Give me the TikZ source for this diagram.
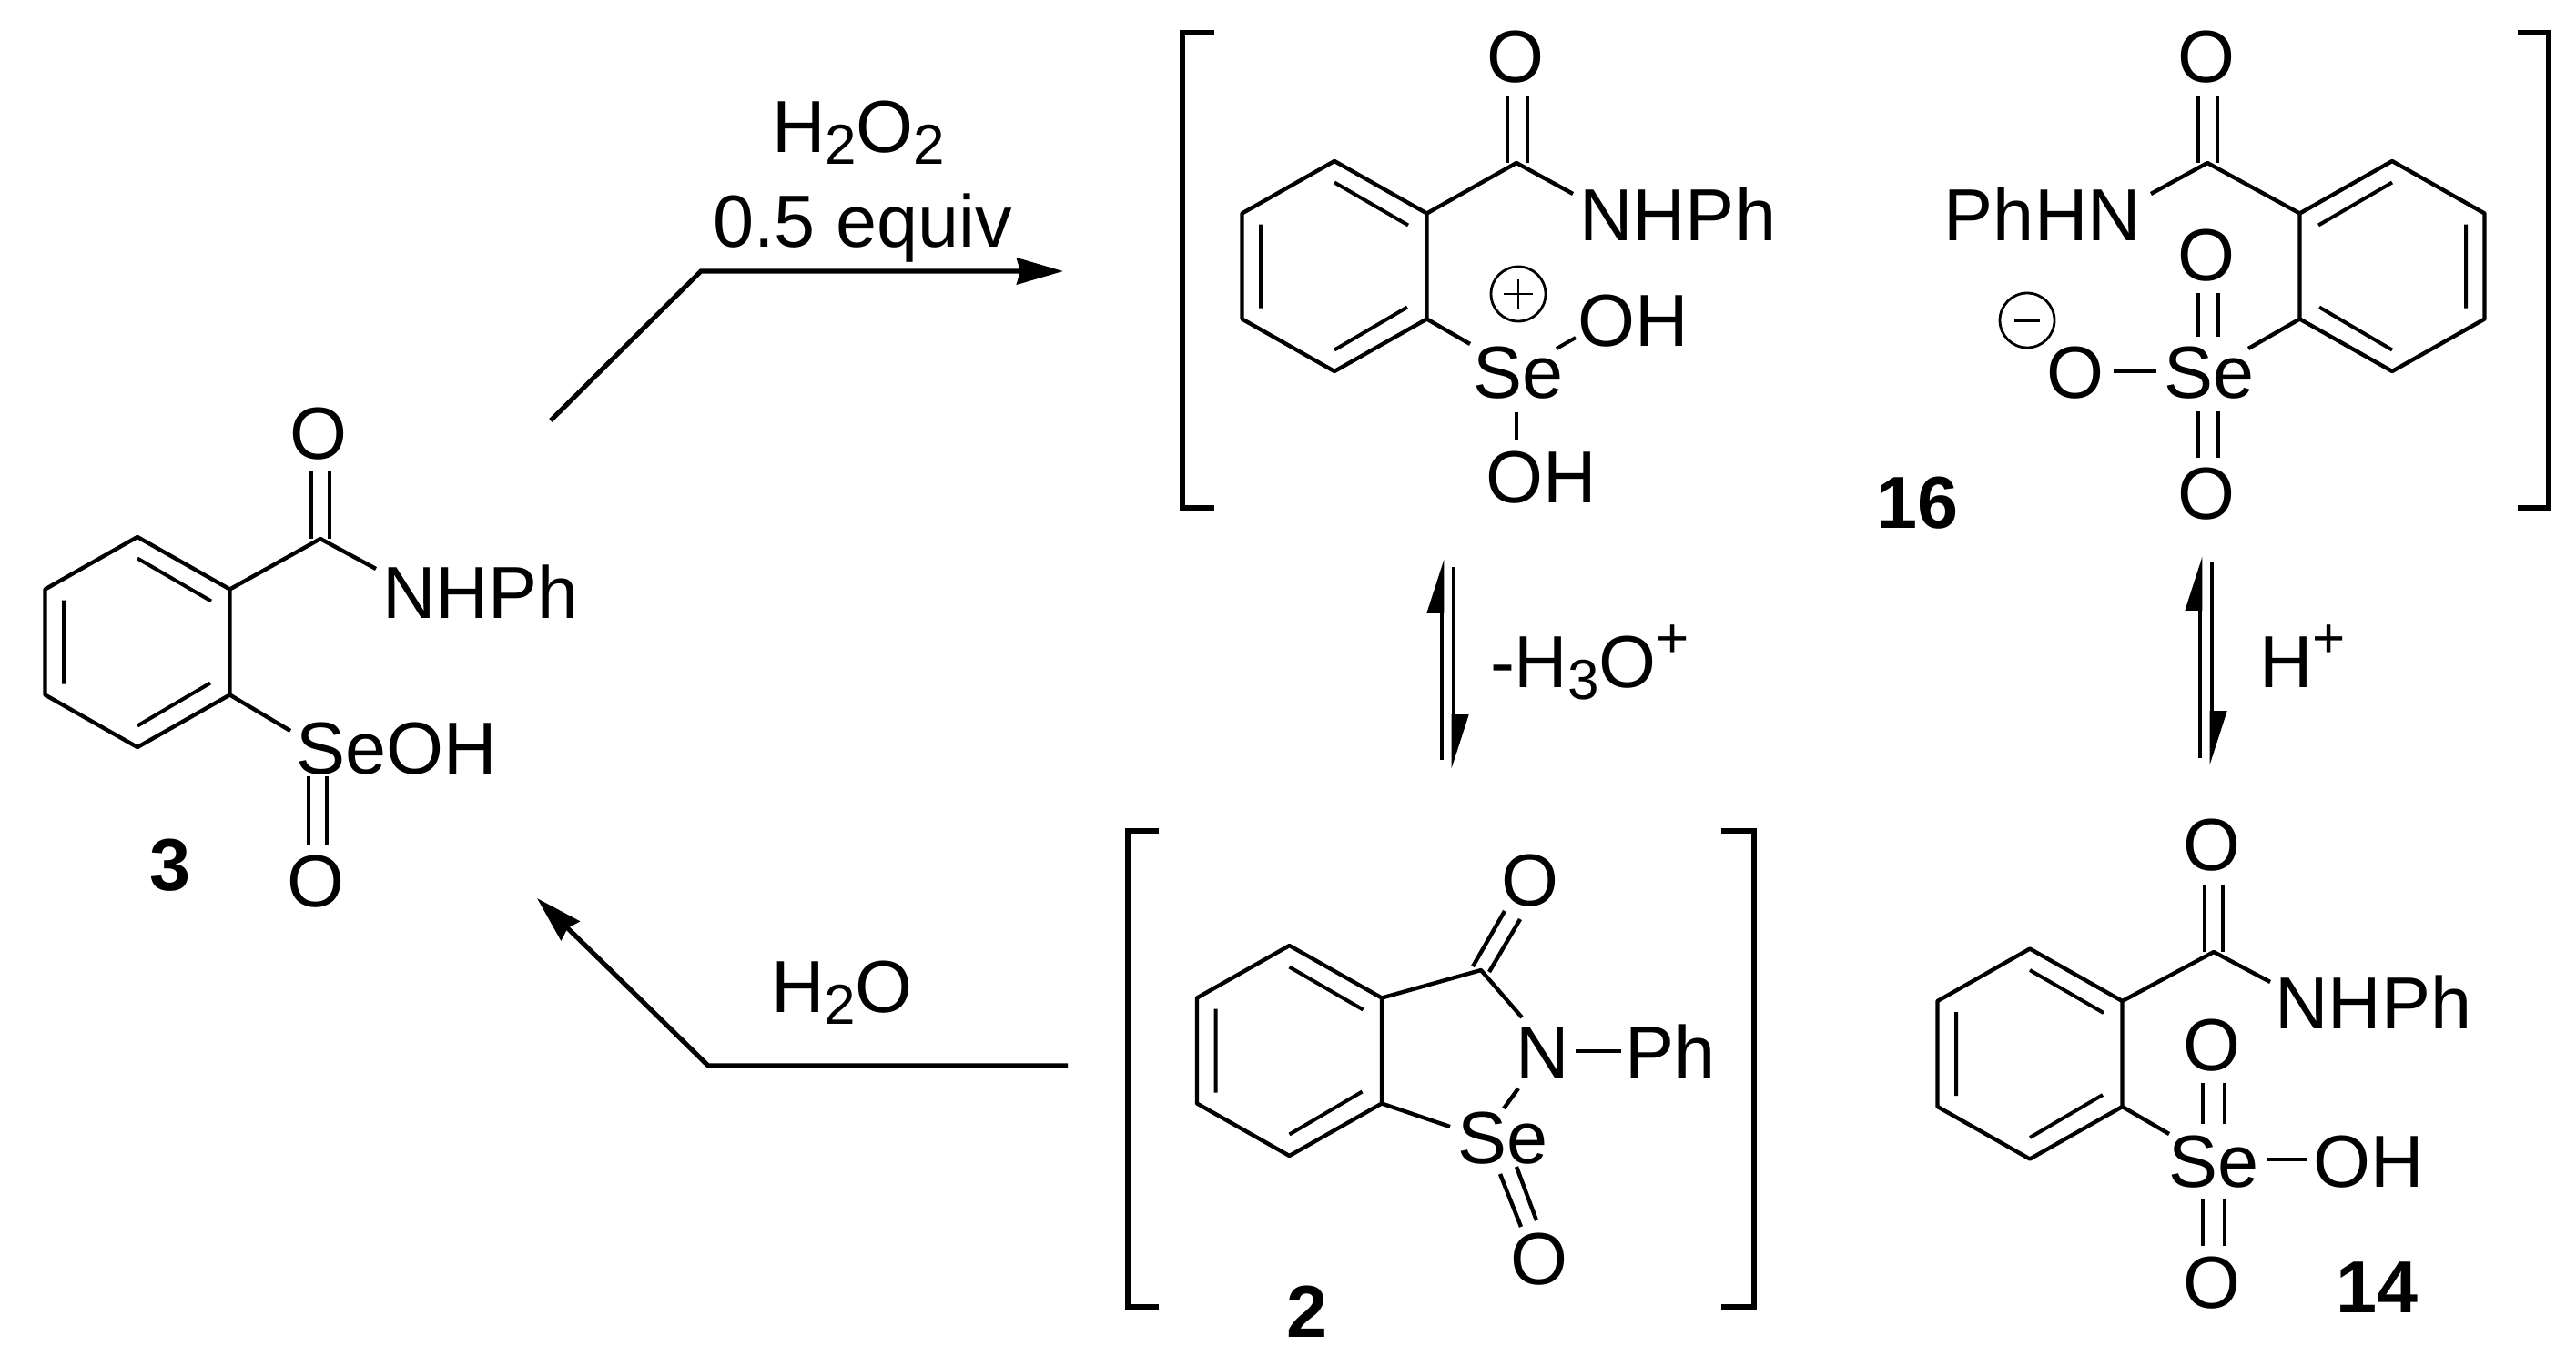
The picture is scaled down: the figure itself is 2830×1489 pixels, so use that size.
\documentclass[tikz,border=0pt]{standalone}
\usepackage{fontspec}
\setmainfont{Liberation Sans}
\usetikzlibrary{arrows.meta}
\newcommand{\sbs}[1]{\raisebox{-6.5pt}{\fontsize{31pt}{31pt}\selectfont #1}}
\newcommand{\sps}[1]{\raisebox{16.5pt}{\fontsize{31pt}{31pt}\selectfont #1}}
\tikzset{
  bond/.style={line width=2.2pt,line cap=butt,line join=round,black},
  brack/.style={line width=2.8pt,line join=miter,black},
  thinl/.style={line width=1.4pt,black},
  lab/.style={anchor=base,inner sep=0pt,outer sep=0pt,font=\fontsize{40.5pt}{40.5pt}\selectfont},
  labw/.style={lab,anchor=base west},
  labe/.style={lab,anchor=base east},
  num/.style={lab,font=\fontsize{40.5pt}{40.5pt}\selectfont\bfseries},
  rxn/.style={line width=2.6pt,line join=miter,black,-{Stealth[length=25.5pt,width=14.5pt,inset=2pt]}},
  hup/.style={line width=2.4pt,black,-{Stealth[harpoon,length=26pt,width=16pt,inset=0pt]}},
  hdn/.style={line width=2.4pt,black,-{Stealth[harpoon,length=26pt,width=16pt,inset=0pt]}},
}
\newcommand{\benz}[4]{%
  \begin{scope}[shift={(#2,#3)},xscale=#4]
    \coordinate (#1-1) at (0,-115.5);
    \coordinate (#1-2) at (101.5,-58);
    \coordinate (#1-3) at (101.5,58);
    \coordinate (#1-4) at (0,115.5);
    \coordinate (#1-5) at (-101.5,58);
    \coordinate (#1-6) at (-101.5,-58);
    \draw[bond] (#1-1)--(#1-2)--(#1-3)--(#1-4)--(#1-5)--(#1-6)--cycle;
    \draw[bond,line width=2pt] (0,-92)--(81,-45) (-81,-46)--(-81,46) (0,92)--(80,45);
  \end{scope}}
\begin{document}
\begin{tikzpicture}[x=0.5pt,y=-0.5pt]
\useasboundingbox (0,0) rectangle (2830,1489);
% ---------- compound 3
\benz{a}{151}{705.5}{1}
\coordinate (aC) at (352,592);
\coordinate (aN) at (413,625);
\coordinate (aS) at (319,803);
\draw[bond] (a-2)--(aC)--(aN);
\draw[bond] (a-3)--(aS);
\draw[bond] (342,518)--(342,592) (362,518)--(362,592);
\draw[bond] (339,853)--(339,928) (359,853)--(359,928);
\node[lab] (aO1) at (350,504) {O};
\node[labw] (aNH) at (420,679) {NHPh};
\node[labw] (aSe) at (325,850) {SeOH};
\node[lab] (aO2) at (347,996) {O};
\node[num] (n3) at (187,978) {3};
% ---------- cation
\draw[brack] (1334,36)--(1299,36)--(1299,558)--(1334,558);
\benz{b}{1466}{292.5}{1}
\coordinate (bC) at (1666,179);
\coordinate (bN) at (1728,213);
\coordinate (bS) at (1615,378);
\draw[bond] (b-2)--(bC)--(bN);
\draw[bond] (b-3)--(bS);
\draw[bond] (1656,106)--(1656,179) (1678,106)--(1678,179);
\node[lab] (bO) at (1665,90) {O};
\node[labw] (bNH) at (1735,264) {NHPh};
\node[labw] (bOH) at (1733,380) {OH};
\node[labw] (bSe) at (1618,437) {Se};
\node[labw] (bOH2) at (1632,552) {OH};
\draw[bond,line width=2pt] (1710,383)--(1731,371);
\draw[bond,line width=2pt] (1666,453)--(1666,483);
\node[circle,draw,thinl,minimum size=30pt,inner sep=0pt] (bplus) at (1668,323) {};
\draw[thinl] (1652,323)--(1684,323) (1668,307)--(1668,339);
% ---------- anion
\draw[brack] (2766,36)--(2800,36)--(2800,558)--(2766,558);
\benz{c}{2628}{292.5}{-1}
\coordinate (cC) at (2425,179);
\coordinate (cN) at (2363,213);
\coordinate (cS) at (2470,383);
\draw[bond] (c-2)--(cC)--(cN);
\draw[bond] (c-3)--(cS);
\draw[bond] (2415,106)--(2415,179) (2436,106)--(2436,179);
\draw[bond] (2415,322)--(2415,370) (2437,322)--(2437,370);
\draw[bond] (2415,452)--(2415,503) (2437,452)--(2437,503);
\draw[bond] (2322,408)--(2369,408);
\node[lab] (cO1) at (2424,90) {O};
\node[labe] (cNH) at (2352,264) {PhHN};
\node[lab] (cO2) at (2424,308) {O};
\node[labw] (cSe) at (2377,437) {Se};
\node[lab] (cO3) at (2280,437) {O};
\node[lab] (cO4) at (2424,570) {O};
\node[circle,draw,thinl,minimum size=30pt,inner sep=0pt] (cminus) at (2227,352) {};
\draw[thinl,line width=2pt] (2213,352)--(2241,352);
\node[num,anchor=base west] (n16) at (2061,580) {16};
% ---------- compound 2
\draw[brack] (1273,913)--(1239,913)--(1239,1436)--(1273,1436);
\draw[brack] (1891,913)--(1927,913)--(1927,1436)--(1891,1436);
\benz{d}{1416.5}{1154.5}{1}
\coordinate (dC) at (1627,1066);
\coordinate (dN) at (1672,1118);
\coordinate (dS) at (1593,1238);
\draw[bond] (d-2)--(dC)--(dN);
\draw[bond] (d-3)--(dS);
\draw[bond] (1618,1062)--(1653,1001) (1636,1068)--(1670,1010);
\draw[bond] (1731,1155)--(1781,1155);
\draw[bond] (1668,1196)--(1652,1218);
\draw[bond] (1648,1290)--(1671,1348) (1666,1282)--(1688,1341);
\node[lab] (dO1) at (1681,995) {O};
\node[labw] (dNN) at (1665,1184) {N};
\node[labw] (dPh) at (1785,1184) {Ph};
\node[labw] (dSe) at (1601,1278) {Se};
\node[lab] (dO2) at (1691,1411) {O};
\node[num] (n2) at (1436,1469) {2};
% ---------- compound 14
\benz{e}{2230}{1158}{1}
\coordinate (eC) at (2432,1046);
\coordinate (eN) at (2494,1079);
\coordinate (eS) at (2383,1246);
\draw[bond] (e-2)--(eC)--(eN);
\draw[bond] (e-3)--(eS);
\draw[bond] (2422,972)--(2422,1046) (2442,972)--(2442,1046);
\draw[bond] (2420,1190)--(2420,1235) (2444,1190)--(2444,1235);
\draw[bond] (2420,1317)--(2420,1369) (2444,1317)--(2444,1369);
\draw[bond] (2490,1274)--(2534,1274);
\node[lab] (eO1) at (2430,956) {O};
\node[labw] (eNH) at (2499,1130) {NHPh};
\node[lab] (eO2) at (2430,1176) {O};
\node[labw] (eSe) at (2382,1304) {Se};
\node[labw] (eOH) at (2541,1304) {OH};
\node[lab] (eO3) at (2430,1437) {O};
\node[num,anchor=base west] (n14) at (2566,1442) {14};
% ---------- reaction arrows
\coordinate (r1a) at (605,462);
\coordinate (r1b) at (770,298);
\coordinate (r1c) at (1168,298);
\draw[rxn] (r1a)--(r1b)--(r1c);
\node[labw] (t1) at (848,167) {H\sbs{2}O\sbs{2}};
\node[labw] (t2) at (783,271) {0.5 equiv};
\coordinate (r2a) at (1173,1171);
\coordinate (r2b) at (778,1171);
\coordinate (r2c) at (590,987);
\draw[rxn] (r2a)--(r2b)--(r2c);
\node[labw] (t3) at (847,1112) {H\sbs{2}O};
% ---------- equilibria
\coordinate (q1a) at (1584,835);
\coordinate (q1b) at (1584,614);
\coordinate (q2a) at (1597,623);
\coordinate (q2b) at (1597,845);
\draw[hup] (q1a)--(q1b);
\draw[hdn] (q2a)--(q2b);
\coordinate (q3a) at (2417,833);
\coordinate (q3b) at (2417,611);
\coordinate (q4a) at (2430,618);
\coordinate (q4b) at (2430,841);
\draw[hup] (q3a)--(q3b);
\draw[hdn] (q4a)--(q4b);
\node[labw] (t4) at (1637,755) {-H\sbs{3}O\sps{+}};
\node[labw] (t5) at (2482,755) {H\sps{+}};
\end{tikzpicture}
\end{document}
